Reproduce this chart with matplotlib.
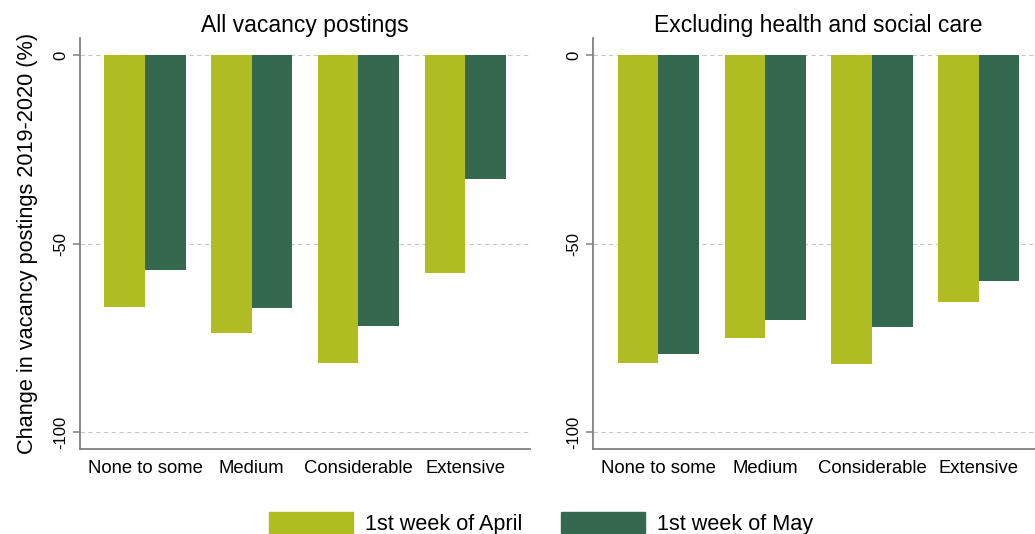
import matplotlib.pyplot as plt
import numpy as np
from matplotlib.patches import Patch

plt.rcParams['font.family'] = ['Liberation Sans', 'DejaVu Sans']

categories = ["None to some", "Medium", "Considerable", "Extensive"]
series_names = ["1st week of April", "1st week of May"]

# all vacancy postings
all_april = [-66.8, -73.7, -81.8, -57.8]
all_may = [-56.9, -67.1, -71.8, -32.8]

# excluding health and social care
excl_april = [-81.7, -75.0, -82.0, -65.6]
excl_may = [-79.2, -70.3, -72.1, -59.8]

col_april = "#AFBD22"
col_may = "#346950"

fig = plt.figure(figsize=(10.35, 5.34), dpi=100)
ax1 = fig.add_axes([0.0773, 0.159, 0.4348, 0.769])
ax2 = fig.add_axes([0.5734, 0.159, 0.4348, 0.769])

x = np.arange(len(categories))
w = 0.38


def panel(ax, april, may, title):
    ax.bar(x - w / 2, april, width=w, color=col_april, zorder=2)
    ax.bar(x + w / 2, may, width=w, color=col_may, zorder=2)
    ax.set_xlim(-0.609, 3.607)
    ax.set_ylim(-104.5, 4.4)
    ax.set_yticks([0, -50, -100])
    ax.set_yticklabels(["0", "-50", "-100"], rotation=90, va="center", fontsize=12)
    ax.set_xticks(x)
    ax.set_xticklabels(categories, fontsize=13.3)
    ax.tick_params(axis="x", length=0, pad=8)
    ax.tick_params(axis="y", length=5, width=1.1, color="#808080", pad=3.5)
    ax.grid(axis="y", color="#c8c8c8", linestyle=(0, (4, 3)), linewidth=0.8, zorder=0)
    for s in ["top", "right"]:
        ax.spines[s].set_visible(False)
    for s in ["left", "bottom"]:
        ax.spines[s].set_color("#808080")
        ax.spines[s].set_linewidth(1.3)
    ax.set_title(title, fontsize=16.5, pad=4.5)


panel(ax1, all_april, all_may, "All vacancy postings")
panel(ax2, excl_april, excl_may, "Excluding health and social care")

ax1.set_ylabel("Change in vacancy postings 2019-2020 (%)", fontsize=15.7)
ax1.yaxis.set_label_coords(-0.094, 0.5)

handles = [Patch(color=col_april), Patch(color=col_may)]
fig.legend(handles, series_names, loc="upper center", bbox_to_anchor=(0.5227, 0.062),
           ncol=2, frameon=False, fontsize=15.6, handlelength=3.87, handleheight=1.15,
           handletextpad=0.55, columnspacing=1.78, borderpad=0)

plt.savefig("out.png", dpi=100)
